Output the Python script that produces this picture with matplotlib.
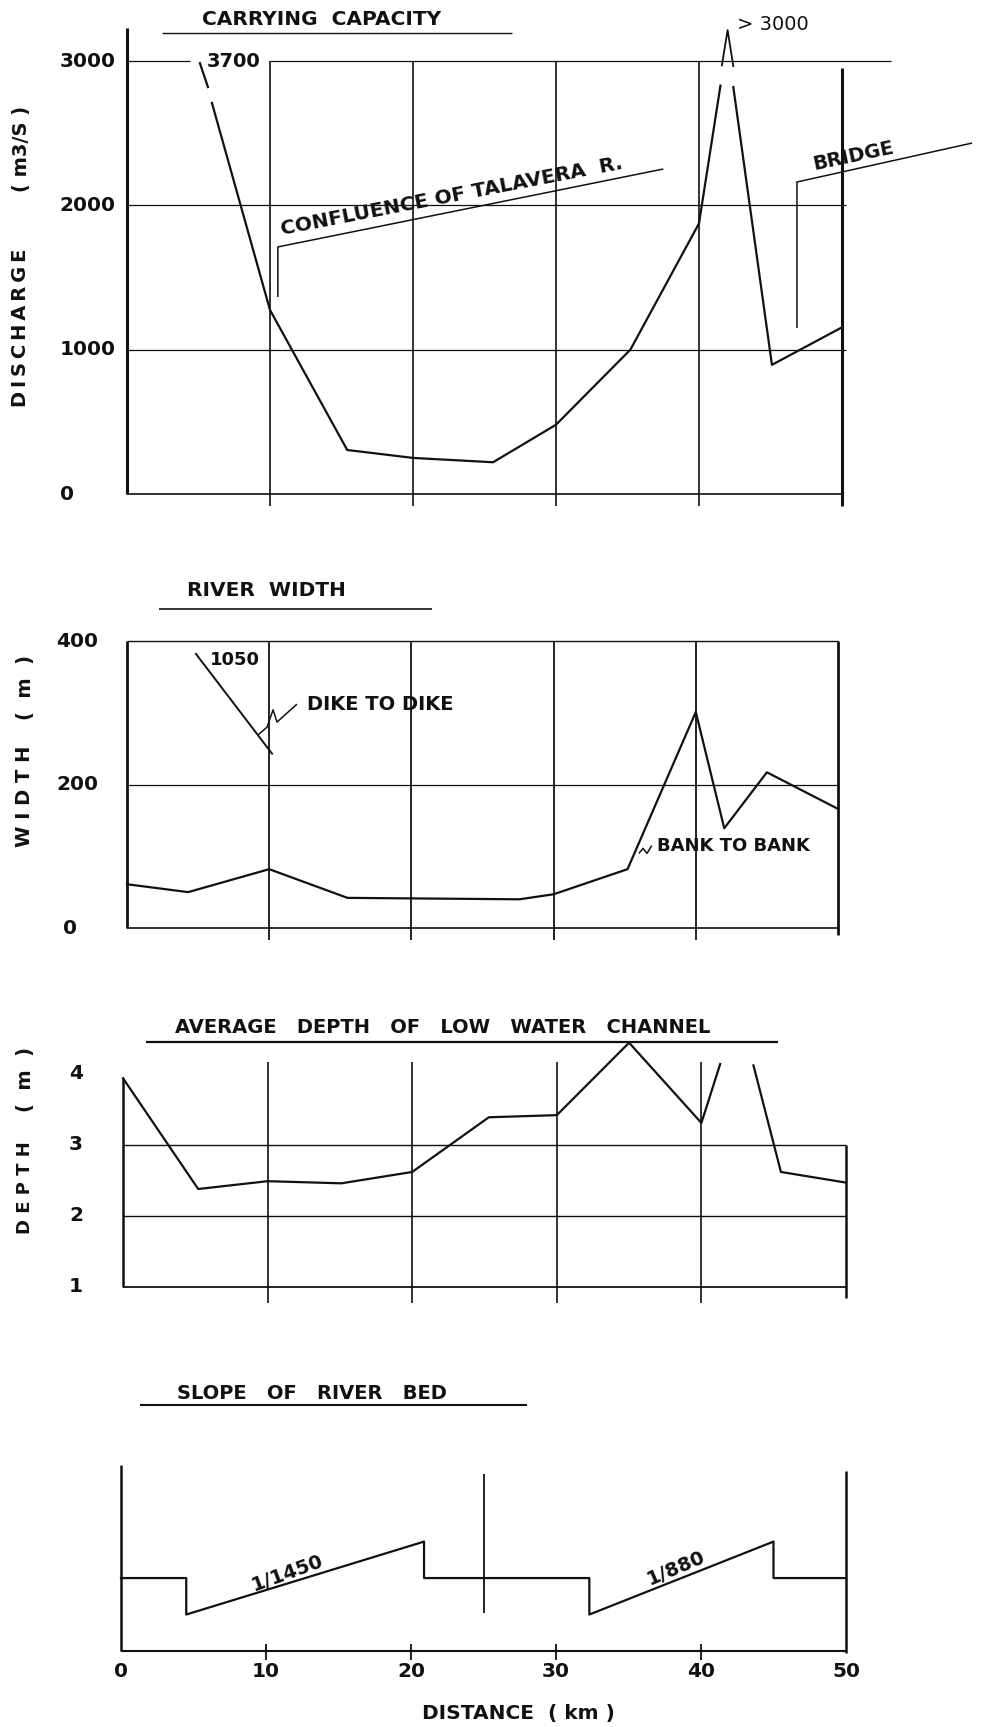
import numpy as np
import matplotlib
matplotlib.use('Agg')
import matplotlib.pyplot as plt

nan = np.nan

# carrying capacity (m3/s) along the river, gaps where the line runs off scale
dist_q = [5.1, 5.66, nan, 5.94, 10, 15.4, 20, 25.6, 30, 35.2, 40, 41.5, nan, 42.4, 45.1, 50]
discharge = [2985, 2820, nan, 2710, 1275, 305, 250, 220, 480, 1000, 1875, 2830, nan, 2820, 895, 1155]
peak_x = [41.6, 42.0, 42.4]
peak_q = [2970, 3215, 2965]

# river width (m)
dist_w = [0, 4.3, 10, 15.5, 27.6, 30, 35.2, 40, 42, 45, 50]
width_bank = [61, 50, 82, 42, 40, 47, 82, 301, 139, 217, 166]
dist_dike = [4.85, 10.2]
width_dike = [382, 243]

# average depth of low water channel (m)
dist_d = [0, 5.2, 10, 15.1, 20, 25.3, 30, 35, 40, 41.3, nan, 43.6, 45.5, 50]
depth = [3.94, 2.38, 2.49, 2.46, 2.62, 3.39, 3.42, 4.44, 3.31, 4.14, nan, 4.12, 2.62, 2.47]

# slope of river bed (schematic profile)
dist_s = [0, 4.5, 4.5, 20.9, 20.9, 32.3, 32.3, 45.0, 45.0, 50]
bed = [0, 0, -1, 1, 0, 0, -1, 1, 0, 0]

km_ticks = [0, 10, 20, 30, 40, 50]
q_ticks = [3000, 2000, 1000, 0]
w_ticks = [400, 200, 0]
d_ticks = [4, 3, 2, 1]

# annotation leaders
conf_x, conf_y = [10.55, 10.55, 37.5], [1365, 1712, 2252]
bridge_x, bridge_y = [46.85, 46.85, 59.1], [1150, 2162, 2432]
dike_lx, dike_ly = [11.95, 10.55, 10.27, 9.85, 9.21], [312, 287, 304, 280, 269]
bank_lx, bank_ly = [36.9, 36.57, 36.29, 36.0], [115, 104, 111, 104]

plt.rcParams['font.family'] = ['DejaVu Sans']
plt.rcParams['font.weight'] = 'bold'

W, H = 990, 1727
fig = plt.figure(figsize=(W / 100, H / 100), dpi=100)
fig.patch.set_facecolor('white')
K = '#111111'


def panel(x0, x1, ytop, ybot, ylim):
    ax = fig.add_axes([x0 / W, 1 - ybot / H, (x1 - x0) / W, (ybot - ytop) / H])
    ax.set_xlim(0, 50)
    ax.set_ylim(*ylim)
    ax.axis('off')
    return ax


def seg(ax, xs, ys, lw=1.0):
    ax.plot(xs, ys, color=K, lw=lw, clip_on=False, solid_capstyle='butt')


def ylab(x, y, s, size):
    fig.text(x / W, 1 - y / H, s, rotation=90, ha='center', va='center',
             fontsize=size, color=K)


# ---------- carrying capacity ----------
ax1 = panel(127, 842, 25, 494, (0, 3250))
seg(ax1, [0, 0], [0, 3230], 2.2)
seg(ax1, [0, 50], [0, 0], 1.2)
seg(ax1, [50, 50], [-80, 2950], 2.2)
for xv in km_ticks[1:-1]:
    seg(ax1, [xv, xv], [-80, 3000], 1.2)
seg(ax1, [0, 4.4], [3000, 3000], 0.9)
seg(ax1, [10, 53.4], [3000, 3000], 0.9)
for yv in [2000, 1000]:
    seg(ax1, [0, 50.3], [yv, yv], 0.9)
ax1.plot(dist_q, discharge, color=K, lw=1.6, clip_on=False)
ax1.plot(peak_x, peak_q, color=K, lw=1.3, clip_on=False)
for yv in q_ticks:
    ax1.text(-4.7, yv, str(yv), ha='left', va='center', fontsize=14.5, color=K)
ax1.text(5.6, 3000, '3700', ha='left', va='center', fontsize=14, color=K)
ax1.text(42.65, 3255, '> 3000', ha='left', va='center', fontsize=14,
         fontweight='normal', color=K)
ax1.text(13.6, 3285, 'CARRYING  CAPACITY', ha='center', va='center', fontsize=14.5, color=K)
seg(ax1, [2.45, 26.9], [3195, 3195], 1.0)
seg(ax1, conf_x, conf_y, 1.1)
ax1.text(10.9, 1770, 'CONFLUENCE OF TALAVERA  R.', rotation=11, rotation_mode='anchor',
         ha='left', va='bottom', fontsize=14.5, color=K)
seg(ax1, bridge_x, bridge_y, 1.1)
ax1.text(48.1, 2215, 'BRIDGE', rotation=12, rotation_mode='anchor',
         ha='left', va='bottom', fontsize=14, color=K)
ylab(21, 328, '\u2009'.join('DISCHARGE'), 14)
ylab(21, 149, '( m3/S )', 14)

# ---------- river width ----------
ax2 = panel(127, 838, 641, 928, (0, 400))
seg(ax2, [0, 0], [0, 400], 2.0)
seg(ax2, [50, 50], [-10, 400], 2.0)
for xv in km_ticks[1:-1]:
    seg(ax2, [xv, xv], [-17, 400], 1.3)
seg(ax2, [0, 50], [400, 400], 1.0)
seg(ax2, [0, 50], [200, 200], 0.9)
seg(ax2, [0, 50], [0, 0], 1.2)
ax2.plot(dist_w, width_bank, color=K, lw=1.6, clip_on=False)
ax2.plot(dist_dike, width_dike, color=K, lw=1.4, clip_on=False)
for yv in w_ticks:
    ax2.text(-5.0 if yv else -4.5, yv, str(yv), ha='left', va='center', fontsize=14.5, color=K)
ax2.text(5.84, 374, '1050', ha='left', va='center', fontsize=13, color=K)
ax2.text(12.66, 312, 'DIKE TO DIKE', ha='left', va='center', fontsize=14, color=K)
seg(ax2, dike_lx, dike_ly, 1.1)
ax2.text(37.27, 114, 'BANK TO BANK', ha='left', va='center', fontsize=13, color=K)
seg(ax2, bank_lx, bank_ly, 1.1)
ax2.text(9.8, 470, 'RIVER  WIDTH', ha='center', va='center', fontsize=14.5, color=K)
seg(ax2, [2.25, 21.45], [445, 445], 1.2)
ylab(25, 796, 'W I D T H', 14)
ylab(25, 688, '(  m  )', 14)

# ---------- depth ----------
ax3 = panel(123, 846, 1042, 1287, (1, 4.45))
seg(ax3, [0, 0], [1, 3.94], 1.8)
seg(ax3, [50, 50], [0.85, 3.0], 1.8)
for xv in km_ticks[1:-1]:
    seg(ax3, [xv, xv], [0.77, 4.17], 1.2)
for yv in [3, 2]:
    seg(ax3, [0, 50], [yv, yv], 1.0)
seg(ax3, [0, 50], [1, 1], 1.3)
ax3.plot(dist_d, depth, color=K, lw=1.6, clip_on=False)
for yv in d_ticks:
    ax3.text(-3.25, yv, str(yv), ha='center', va='center', fontsize=14.5, color=K)
ax3.text(22.1, 4.66, 'AVERAGE   DEPTH   OF   LOW   WATER   CHANNEL', ha='center', va='center',
         fontsize=14, color=K)
seg(ax3, [1.6, 45.3], [4.45, 4.45], 1.6)
ylab(25, 1188, 'D E P T H', 13)
ylab(25, 1080, '(  m  )', 14)

# ---------- slope ----------
ax4 = panel(121, 846, 1465, 1651, (-2, 3.1))
seg(ax4, [0, 0], [-2, 3.1], 1.8)
seg(ax4, [50, 50], [-2.05, 2.93], 1.8)
seg(ax4, [25, 25], [-0.97, 2.85], 1.3)
seg(ax4, [0, 50], [-2, -2], 1.5)
for xv in km_ticks[1:-1]:
    seg(ax4, [xv, xv], [-2.25, -1.8], 1.3)
ax4.plot(dist_s, bed, color=K, lw=1.6, clip_on=False)
for xv in km_ticks:
    ax4.text(xv, -2.55, str(xv), ha='center', va='center', fontsize=14.5, color=K)
ax4.text(27.4, -3.7, 'DISTANCE  ( km )', ha='center', va='center', fontsize=14.5, color=K)
ax4.text(11.45, 0.14, '1/1450', rotation=20, ha='center', va='center', fontsize=14, color=K)
ax4.text(38.3, 0.27, '1/880', rotation=23, ha='center', va='center', fontsize=14, color=K)
ax4.text(13.2, 5.07, 'SLOPE   OF   RIVER   BED', ha='center', va='center', fontsize=14, color=K)
seg(ax4, [1.3, 28.0], [4.74, 4.74], 1.5)

fig.savefig('out.png', dpi=100, facecolor='white')
